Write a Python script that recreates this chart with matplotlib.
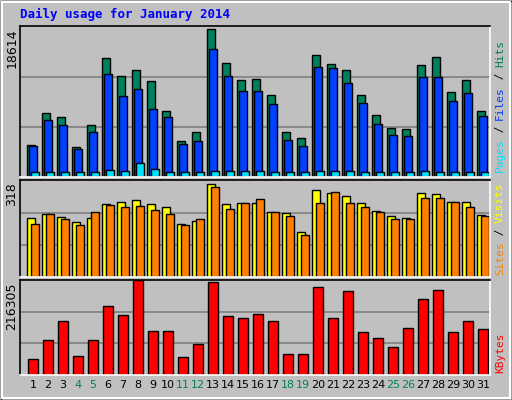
import matplotlib
matplotlib.use("Agg")
import matplotlib.pyplot as plt
from matplotlib.patches import Rectangle

days = list(range(1, 32))
hits = [3971,7942,7446,3723,6453,14768,12534,13279,11913,8190,4467,5584,18366,14147,12037,12162,10176,5584,4840,15140,14023,13279,10176,7694,6081,5957,13899,14892,10548,12037,8190]
files = [3847,7073,6453,3475,5584,12782,10052,10920,8438,7446,4095,4467,15884,12534,10672,10672,9059,4591,3847,13651,13527,11665,9183,6577,5212,5088,12410,12410,9431,10424,7570]
pages = [620,620,620,620,620,870,745,1737,990,620,620,620,745,745,745,745,620,620,620,745,745,745,620,620,620,620,745,620,620,620,620]
visits = [195,209,199,182,195,242,248,255,242,232,175,185,308,242,245,245,215,212,149,285,278,268,245,218,202,195,278,275,248,248,205]
sites = [175,209,192,172,215,238,232,235,222,209,172,192,298,225,245,258,215,202,139,245,281,245,232,215,192,192,261,261,248,232,202]
kbytes = [35655,80818,123604,42786,80818,156882,137866,216305,99834,99834,40409,71310,213930,135489,130735,140243,123604,47540,47540,202045,130735,192537,97457,85572,64179,106965,173521,194914,97457,123604,104588]
weekend = [4, 5, 11, 12, 18, 19, 25, 26]
max_hits, max_visits, max_kb = 18614, 318, 216305

W, H = 512, 400
fig = plt.figure(figsize=(W/100, H/100), dpi=100)
fig.patch.set_facecolor('#C0C0C0')
BG = '#C0C0C0'
mono = 'DejaVu Sans Mono'

def px_axes(x0, y0, x1, y1):
    return fig.add_axes([x0/W, 1-y1/H, (x1-x0)/W, (y1-y0)/H])

fig.add_artist(Rectangle((0.5/W, 0.5/H), 1-1/W, 1-1/H, transform=fig.transFigure, fill=False, ec='black', lw=1))
fig.add_artist(Rectangle((2/W, 2/H), 1-4/W, 1-4/H, transform=fig.transFigure, fill=False, ec='white', lw=1.5))

xl = (1 - 13/15, 1 + 457/15)
px = 1/15

def setup(ax, ymax, label, ytop):
    ax.set_facecolor(BG)
    ax.set_xlim(*xl)
    ax.set_ylim(0, ymax*1.005)
    ax.set_xticks([]); ax.set_yticks([])
    for y in (ymax/3, 2*ymax/3):
        ax.axhline(y, color='#808080', lw=1.2, zorder=0)
    for s in ax.spines.values():
        s.set_color('black'); s.set_linewidth(1.2)
    ax.spines['right'].set_color('white'); ax.spines['bottom'].set_color('white')
    fig.text(12/W, 1-(ytop+2)/H, label, rotation=90, ha='center', va='top',
             fontsize=9, family='DejaVu Sans')

ax1 = px_axes(20, 26, 490, 177)
setup(ax1, max_hits, str(max_hits), 26)
ax1.bar([x - 2*px for x in days], hits, width=8*px, color='#00805C', ec='black', lw=1)
ax1.bar(days, files, width=8*px, color='#0040FF', ec='black', lw=1)
ax1.bar([x + 2*px for x in days], pages, width=8*px, color='#00E0FF', ec='black', lw=1)

ax2 = px_axes(20, 180, 490, 277)
setup(ax2, max_visits, str(max_visits), 180)
ax2.bar([x - 2*px for x in days], visits, width=8*px, color='#FFFF00', ec='black', lw=1)
ax2.bar([x + 2*px for x in days], sites, width=8*px, color='#FF8000', ec='black', lw=1)

ax3 = px_axes(20, 280, 490, 375)
setup(ax3, max_kb, str(max_kb), 280)
ax3.bar(days, kbytes, width=10*px, color='#FF0000', ec='black', lw=1)
for dd in days:
    ax3.text(dd, -0.1, str(dd), transform=ax3.get_xaxis_transform(), ha='center', va='center',
             fontsize=8, color='#00805C' if dd in weekend else 'black')

fig.text(20/W, 1-14/H, 'Daily usage for January 2014', color='#0000FF', fontsize=9,
         fontweight='bold', family=mono, va='center', ha='left')

def vlegend(parts, ybottom):
    # parts listed bottom-to-top, text reads upward
    ch = 6.6
    y = ybottom
    for p, c in parts:
        fig.text(500/W, 1-(y - len(p)*ch/2)/H, p, color=c, rotation=90, ha='center', va='center',
                 fontsize=8, family=mono)
        y -= len(p)*ch

vlegend([('Pages', '#00E0FF'), (' / ', 'black'), ('Files', '#0040FF'), (' / ', 'black'), ('Hits', '#00805C')], 172)
vlegend([('Sites', '#FF8000'), (' / ', 'black'), ('Visits', '#FFFF00')], 275)
vlegend([('KBytes', '#FF0000')], 373)

fig.savefig('out.png', dpi=100, facecolor=fig.get_facecolor())
